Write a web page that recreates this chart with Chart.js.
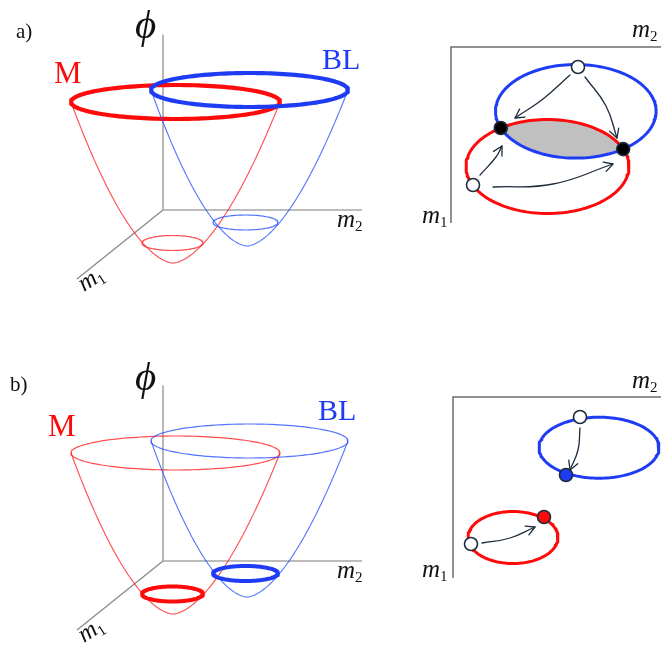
<!DOCTYPE html>
<html>
<head>
<meta charset="utf-8">
<script src="https://cdn.jsdelivr.net/npm/chart.js@4.4.1/dist/chart.umd.min.js"></script>
<style>
  html, body { margin: 0; padding: 0; background: #fff; }
  canvas { display: block; }
</style>
</head>
<body>
<canvas id="figura" width="661" height="647"></canvas>
<script>
// painel a) em cima, painel b) deslocado para baixo
const panelNames = ['a)', 'b)'];
const panelShiftY = [0, 351];

// poços de energia (M = vermelho, BL = azul), coordenadas do painel a)
const bowlLabels = ['M', 'BL'];
const bowlTopCenterX = [175.5, 249.5];
const bowlTopCenterY = [102, 90];
const bowlTopRadiusX = [104.5, 98.5];
const bowlTopRadiusY = [17, 17];
const bowlVertexX = [173, 247];
const bowlVertexY = [263, 246];
const bowlLowCenterX = [172.5, 245.5];
const bowlLowCenterY = [243, 222.5];
const bowlLowRadiusX = [30.5, 32.5];
const bowlLowRadiusY = [7.5, 7.5];
const thickRing = ['top', 'low'];   // qual anel é grosso em cada painel

// órbitas no plano (m1, m2): [vermelho, azul]
const orbitACenterX = [547.5, 575.8];
const orbitACenterY = [166.5, 111.3];
const orbitARadiusX = [81.5, 80.3];
const orbitARadiusY = [47, 46.8];
const orbitBCenterX = [513, 599];
const orbitBCenterY = [537.5, 447.7];
const orbitBRadiusX = [45, 60];
const orbitBRadiusY = [26, 30.5];

// pontos de partida (brancos) e de chegada
const startPointsA = [{x: 473, y: 185}, {x: 578, y: 67}];
const startPointsB = [{x: 471, y: 544}, {x: 580, y: 417}];
const endPointsB = [{x: 544, y: 517}, {x: 566, y: 475}];

// setas: início, ponto intermediário, ponta
const arrowFrom = [[570, 75], [585, 77], [480, 175], [493, 187], [580, 428], [482, 543]];
const arrowVia = [[543, 99], [606, 106], [496, 157], [553, 184], [578, 450], [510, 538]];
const arrowTo = [[515, 118], [617, 138], [502, 146], [613, 164], [570, 470], [535, 527]];

const RED = '#ff0a0a';
const BLUE = '#1f3cf5';
const RED_THIN = 'rgba(255,30,30,0.8)';
const BLUE_THIN = 'rgba(40,80,255,0.8)';
const INK = '#1e2d3d';
const bowlColors = [RED, BLUE];
const bowlThinColors = [RED_THIN, BLUE_THIN];

function ellipsePts(cx, cy, rx, ry) {
    const pts = [];
    for (let i = 0; i <= 150; i++) {
        const t = i / 144 * Math.PI * 2 + 0.7;
        pts.push({x: cx + rx * Math.cos(t), y: cy + ry * Math.sin(t)});
    }
    return pts;
}

function silhouettePts(i, dy) {
    const pts = [];
    const h = bowlVertexY[i] - bowlTopCenterY[i];
    for (let k = -60; k <= 60; k++) {
        const u = k / 60;
        const t = Math.pow(Math.abs(u), 1 / 0.59);
        const cx = bowlVertexX[i] + (bowlTopCenterX[i] - bowlVertexX[i]) * t;
        pts.push({x: cx + bowlTopRadiusX[i] * u, y: bowlVertexY[i] - h * t + dy});
    }
    return pts;
}

function line(data, color, width, extra) {
    return Object.assign({
        data: data, showLine: true, borderColor: color, borderWidth: width,
        pointRadius: 0, fill: false, tension: 0,
        borderCapStyle: 'round', borderJoinStyle: 'round'
    }, extra || {});
}

const datasets = [];

// eixos 3D
panelShiftY.forEach(dy => {
    datasets.push(line([{x: 163, y: 35 + dy}, {x: 163, y: 210 + dy}, {x: 362, y: 210 + dy}], '#a6a6a6', 1.6, {borderCapStyle: 'butt'}));
    datasets.push(line([{x: 163, y: 210 + dy}, {x: 77, y: 279 + dy}], '#8c8c8c', 1.4, {borderCapStyle: 'butt'}));
});

// poços
panelShiftY.forEach((dy, p) => {
    for (let i = 0; i < 2; i++) {
        datasets.push(line(silhouettePts(i, dy), bowlThinColors[i], 1.1));
        const topThick = thickRing[p] === 'top';
        datasets.push(line(ellipsePts(bowlLowCenterX[i], bowlLowCenterY[i] + dy, bowlLowRadiusX[i], bowlLowRadiusY[i]),
            topThick ? bowlThinColors[i] : bowlColors[i], topThick ? 1.2 : 4));
        datasets.push(line(ellipsePts(bowlTopCenterX[i], bowlTopCenterY[i] + dy, bowlTopRadiusX[i], bowlTopRadiusY[i]),
            topThick ? bowlColors[i] : bowlThinColors[i], topThick ? 4.2 : 1.2));
    }
});

// eixos 2D
datasets.push(line([{x: 661, y: 47}, {x: 451, y: 47}, {x: 451, y: 223}], '#6e6e6e', 1.5, {borderCapStyle: 'butt', borderJoinStyle: 'miter'}));
datasets.push(line([{x: 661, y: 397}, {x: 453, y: 397}, {x: 453, y: 578}], '#6e6e6e', 1.5, {borderCapStyle: 'butt', borderJoinStyle: 'miter'}));

// interseção das órbitas do painel a)
function inside(j, pt) {
    const dx = (pt.x - orbitACenterX[j]) / orbitARadiusX[j];
    const dy = (pt.y - orbitACenterY[j]) / orbitARadiusY[j];
    return dx * dx + dy * dy - 1;
}
const redA = ellipsePts(orbitACenterX[0], orbitACenterY[0], orbitARadiusX[0], orbitARadiusY[0]);
const blueA = ellipsePts(orbitACenterX[1], orbitACenterY[1], orbitARadiusX[1], orbitARadiusY[1]);
const crossings = [];
for (let k = 0; k < 144; k++) {
    const f0 = inside(1, redA[k]), f1 = inside(1, redA[k + 1]);
    if (f0 * f1 < 0) {
        const s = f0 / (f0 - f1);
        crossings.push({x: redA[k].x + (redA[k + 1].x - redA[k].x) * s, y: redA[k].y + (redA[k + 1].y - redA[k].y) * s});
    }
}
let lens = redA.slice(0, 144).filter(pt => inside(1, pt) < 0)
    .concat(blueA.slice(0, 144).filter(pt => inside(0, pt) < 0), crossings);
const mx = lens.reduce((s, q) => s + q.x, 0) / lens.length;
const my = lens.reduce((s, q) => s + q.y, 0) / lens.length;
lens.sort((a, b) => Math.atan2(a.y - my, a.x - mx) - Math.atan2(b.y - my, b.x - mx));
lens.push(lens[0]);
datasets.push(line(lens, 'rgba(0,0,0,0)', 0, {fill: 'shape', backgroundColor: '#c0c0c0'}));

datasets.push(line(redA, RED, 3));
datasets.push(line(blueA, BLUE, 3));
datasets.push(line(ellipsePts(orbitBCenterX[0], orbitBCenterY[0], orbitBRadiusX[0], orbitBRadiusY[0]), RED, 3));
datasets.push(line(ellipsePts(orbitBCenterX[1], orbitBCenterY[1], orbitBRadiusX[1], orbitBRadiusY[1]), BLUE, 3));

// setas
for (let k = 0; k < arrowFrom.length; k++) {
    const a = {x: arrowFrom[k][0], y: arrowFrom[k][1]};
    const v = {x: arrowVia[k][0], y: arrowVia[k][1]};
    const b = {x: arrowTo[k][0], y: arrowTo[k][1]};
    datasets.push(line([a, v, b], INK, 1.3, {tension: 0.45}));
    const ang = Math.atan2(b.y - v.y, b.x - v.x);
    const L = 10, w = 0.5;
    datasets.push(line([
        {x: b.x - L * Math.cos(ang - w), y: b.y - L * Math.sin(ang - w)},
        b,
        {x: b.x - L * Math.cos(ang + w), y: b.y - L * Math.sin(ang + w)}
    ], INK, 1.3));
}

// pontos
const dotStyle = {showLine: false, pointRadius: 6.5, pointBorderColor: INK, pointBorderWidth: 1.6, pointHoverRadius: 6.5};
datasets.push(Object.assign({data: crossings, pointBackgroundColor: '#000000'}, dotStyle));
datasets.push(Object.assign({data: startPointsA.concat(startPointsB), pointBackgroundColor: '#ffffff'}, dotStyle));
datasets.push(Object.assign({data: endPointsB, pointBackgroundColor: [RED, BLUE]}, dotStyle));

datasets.forEach((d, i) => { d.order = -i; });

// textos
function mathLabel(ctx, letter, sub, x, y) {
    ctx.font = 'italic 25px "Liberation Serif", "DejaVu Serif", serif';
    ctx.fillText(letter, x, y);
    const w = ctx.measureText(letter).width;
    ctx.font = '15px "Liberation Serif", "DejaVu Serif", serif';
    ctx.fillText(sub, x + w, y + 4);
}

const textPlugin = {
    id: 'textos',
    afterDatasetsDraw(chart) {
        const ctx = chart.ctx;
        const sx = chart.scales.x, sy = chart.scales.y;
        const X = v => sx.getPixelForValue(v), Y = v => sy.getPixelForValue(v);
        ctx.save();
        ctx.textBaseline = 'alphabetic';
        ctx.textAlign = 'left';
        panelShiftY.forEach((dy, p) => {
            ctx.fillStyle = '#111';
            ctx.font = '21px "Liberation Serif", serif';
            ctx.fillText(panelNames[p], X(p ? 10 : 16), Y(p ? 391 : 38));
            ctx.font = 'italic 41px "Liberation Serif", "DejaVu Serif", serif';
            ctx.fillText('\u03d5', X(135), Y(38 + dy + (p ? 1 : 0)));
            ctx.font = '31px "Liberation Serif", serif';
            ctx.fillStyle = RED;
            ctx.fillText(bowlLabels[0], X(p ? 48 : 54), Y(83 + dy + (p ? 2 : 0)));
            ctx.fillStyle = BLUE;
            ctx.font = '30px "Liberation Serif", serif';
            ctx.fillText(bowlLabels[1], X(p ? 318 : 322), Y(69 + dy));
            ctx.fillStyle = '#111';
            mathLabel(ctx, 'm', '2', X(337), Y(227 + dy));
            ctx.save();
            ctx.translate(X(84), Y(292 + dy));
            ctx.rotate(-33 * Math.PI / 180);
            mathLabel(ctx, 'm', '1', 0, 0);
            ctx.restore();
        });
        mathLabel(ctx, 'm', '2', X(632), Y(37));
        mathLabel(ctx, 'm', '1', X(422), Y(223));
        mathLabel(ctx, 'm', '2', X(632), Y(388));
        mathLabel(ctx, 'm', '1', X(422), Y(577));
        ctx.restore();
    }
};

new Chart(document.getElementById('figura'), {
    type: 'scatter',
    data: {datasets: datasets},
    options: {
        responsive: false,
        animation: false,
        devicePixelRatio: 1,
        layout: {padding: 0, autoPadding: false},
        scales: {
            x: {type: 'linear', min: 0, max: 661, display: false},
            y: {type: 'linear', min: 0, max: 647, reverse: true, display: false}
        },
        plugins: {legend: {display: false}, tooltip: {enabled: false}},
        events: []
    },
    plugins: [textPlugin]
});
</script>
</body>
</html>
